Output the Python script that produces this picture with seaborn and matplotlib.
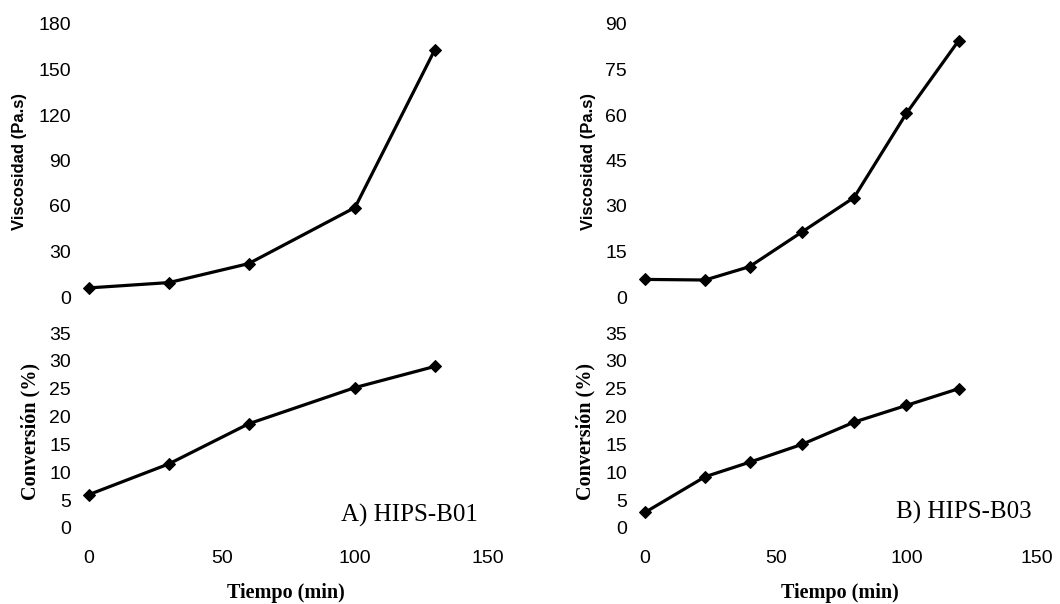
import matplotlib
matplotlib.use("Agg")
import matplotlib.pyplot as plt
import seaborn as sns
import pandas as pd

# ---- data ----
time_a = [0, 30, 60, 100, 130]
visc_a = [6, 9.5, 22, 59, 163]
conv_a = [6, 11.5, 18.7, 25.2, 29]

time_b = [0, 23, 40, 60, 80, 100, 120]
visc_b = [5.8, 5.6, 10, 21.4, 32.8, 60.5, 84.5]
conv_b = [2.8, 9.2, 11.8, 15, 19, 22, 25]

visc_ticks_a = [0, 30, 60, 90, 120, 150, 180]
visc_ticks_b = [0, 15, 30, 45, 60, 75, 90]
conv_ticks = [0, 5, 10, 15, 20, 25, 30, 35]
time_ticks = [0, 50, 100, 150]

labels = ["A) HIPS-B01", "B) HIPS-B03"]

sns.set_style("white")
plt.rcParams["font.family"] = ["Liberation Sans", "DejaVu Sans"]
plt.rcParams["text.color"] = "black"
plt.rcParams["xtick.color"] = "black"
plt.rcParams["ytick.color"] = "black"

W, H = 1060, 604
fig = plt.figure(figsize=(W / 100, H / 100), dpi=100)


def add_ax(x0, x1, ytop, ybot):
    return fig.add_axes([x0 / W, 1 - ybot / H, (x1 - x0) / W, (ybot - ytop) / H])


cols = [
    dict(x0=89, x1=488, t=time_a, v=visc_a, c=conv_a, vt=visc_ticks_a,
         lab=labels[0], labx=478, laby=515, vlx=20, clx=30, tx=286),
    dict(x0=645, x1=1037, t=time_b, v=visc_b, c=conv_b, vt=visc_ticks_b,
         lab=labels[1], labx=1032, laby=512, vlx=588, clx=585, tx=840),
]

for col in cols:
    ax_top = add_ax(col["x0"], col["x1"], 24, 297)
    ax_bot = add_ax(col["x0"], col["x1"], 333, 528)

    df_v = pd.DataFrame({"t": col["t"], "v": col["v"]})
    df_c = pd.DataFrame({"t": col["t"], "c": col["c"]})

    sns.lineplot(data=df_v, x="t", y="v", ax=ax_top, color="black",
                 linewidth=2.3, marker="D", markersize=6.5,
                 markeredgecolor="black", markerfacecolor="black")
    sns.lineplot(data=df_c, x="t", y="c", ax=ax_bot, color="black",
                 linewidth=2.3, marker="D", markersize=6.5,
                 markeredgecolor="black", markerfacecolor="black")

    for ax in (ax_top, ax_bot):
        ax.set_xlim(0, 150)
        ax.set_xlabel("")
        ax.set_ylabel("")
        sns.despine(ax=ax, left=True, bottom=True)
        ax.tick_params(length=0, labelsize=14, pad=13, colors="black")
        ax.set_facecolor("none")
        for ln in ax.lines:
            ln.set_clip_on(False)

    ax_top.set_ylim(0, col["vt"][-1])
    ax_top.set_yticks(col["vt"])
    ax_top.set_xticks([])

    ax_bot.set_ylim(0, 35)
    ax_bot.set_yticks(conv_ticks)
    ax_bot.set_xticks(time_ticks)
    ax_bot.tick_params(axis="x", pad=16)

    fig.text(col["vlx"] / W, 1 - 162 / H, "Viscosidad (Pa.s)", rotation=90,
             ha="center", va="center", fontsize=12, fontweight="bold",
             family=["Liberation Sans", "DejaVu Sans"])
    fig.text(col["clx"] / W, 1 - 431 / H, "Conversión (%)", rotation=90,
             ha="center", va="center", fontsize=14.5, fontweight="bold",
             family=["Liberation Serif", "DejaVu Serif"])
    fig.text(col["tx"] / W, 1 - 593 / H, "Tiempo (min)",
             ha="center", va="center", fontsize=14.5, fontweight="bold",
             family=["Liberation Serif", "DejaVu Serif"])
    fig.text(col["labx"] / W, 1 - col["laby"] / H, col["lab"],
             ha="right", va="center", fontsize=18,
             family=["Liberation Serif", "DejaVu Serif"])

fig.savefig("out.png", dpi=100, facecolor="white")
